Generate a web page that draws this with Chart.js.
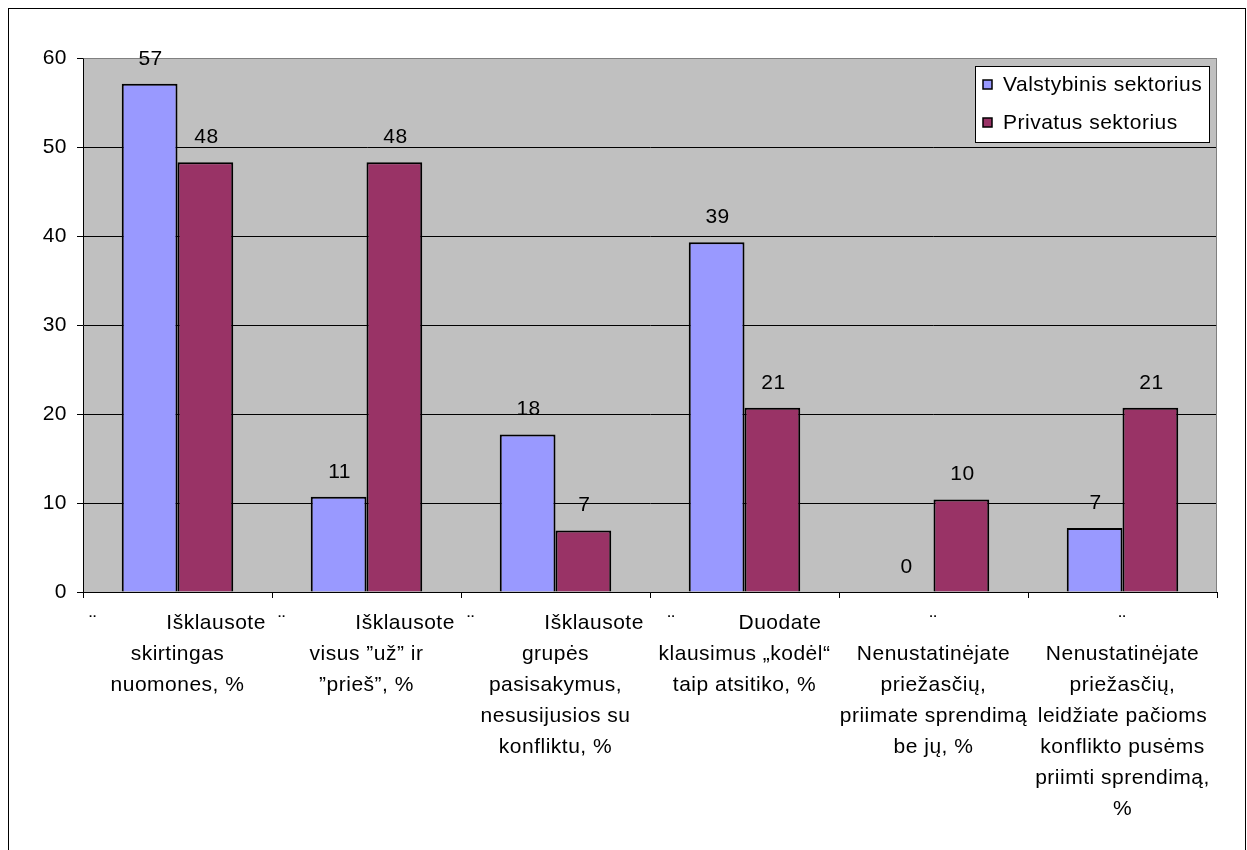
<!DOCTYPE html>
<html>
<head>
<meta charset="utf-8">
<script src="https://cdn.jsdelivr.net/npm/chart.js@4.4.1/dist/chart.umd.min.js"></script>
<style>
  html, body { margin: 0; padding: 0; background: #ffffff; }
  #wrap { width: 1247px; height: 850px; position: relative; }
</style>
</head>
<body>
<div id="wrap"><canvas id="chart" width="1247" height="850"></canvas></div>
<script>
// Survey answers: how conflicts are handled, public vs. private sector (%)
const categories = [
  ['¨           Išklausote', 'skirtingas', 'nuomones, %'],
  ['¨           Išklausote', 'visus ”už” ir', '”prieš”, %'],
  ['¨           Išklausote', 'grupės', 'pasisakymus,', 'nesusijusios su', 'konfliktu, %'],
  ['¨          Duodate', 'klausimus „kodėl“', 'taip atsitiko, %'],
  ['¨', 'Nenustatinėjate', 'priežasčių,', 'priimate sprendimą', 'be jų, %'],
  ['¨', 'Nenustatinėjate', 'priežasčių,', 'leidžiate pačioms', 'konflikto pusėms', 'priimti sprendimą,', '%']
];
const seriesNames = ['Valstybinis sektorius', 'Privatus sektorius'];
const valstybinis = [57.1, 10.7, 17.7, 39.3, 0, 7.2];
const privatus = [48.3, 48.3, 6.9, 20.7, 10.4, 20.7];
const yTicks = [0, 10, 20, 30, 40, 50, 60];

const colors = ['#9999ff', '#993366'];
const FONT = 'Liberation Sans, Arial, sans-serif';
const FONT_SIZE = 21;

const framePlugin = {
  id: 'frame',
  beforeDraw(chart) {
    const { ctx, chartArea: a } = chart;
    // slightly wider glyph spacing for all text on the canvas
    ctx.letterSpacing = '0.5px';
    ctx.save();
    ctx.fillStyle = '#ffffff';
    ctx.fillRect(0, 0, chart.width, chart.height);
    ctx.strokeStyle = '#000000';
    ctx.lineWidth = 1;
    ctx.strokeRect(8.5, 8.5, 1237, 900);
    ctx.fillStyle = '#c0c0c0';
    ctx.fillRect(a.left, a.top, a.right - a.left, a.bottom - a.top);
    ctx.restore();
  },
  afterDatasetsDraw(chart) {
    const { ctx, chartArea: a } = chart;
    ctx.save();
    // plot-area outline on top and right
    ctx.strokeStyle = '#808080';
    ctx.lineWidth = 1;
    ctx.beginPath();
    ctx.moveTo(Math.round(a.left) + 0.5, Math.round(a.top) + 0.5);
    ctx.lineTo(Math.round(a.right) - 0.5, Math.round(a.top) + 0.5);
    ctx.lineTo(Math.round(a.right) - 0.5, Math.round(a.bottom));
    ctx.stroke();
    // value labels above bars
    ctx.fillStyle = '#000000';
    ctx.font = FONT_SIZE + 'px ' + FONT;
    ctx.textAlign = 'center';
    ctx.textBaseline = 'middle';
    chart.data.datasets.forEach((ds, i) => {
      chart.getDatasetMeta(i).data.forEach((el, j) => {
        ctx.fillText(String(Math.round(ds.data[j])), el.x + 1, el.y - 25);
      });
    });
    ctx.restore();
  },
  afterDraw(chart) {
    const { ctx } = chart;
    ctx.save();
    // legend box
    const bx = 975.5, by = 66.5, bw = 234, bh = 76;
    ctx.fillStyle = '#ffffff';
    ctx.fillRect(bx, by, bw, bh);
    ctx.strokeStyle = '#000000';
    ctx.lineWidth = 1;
    ctx.strokeRect(bx, by, bw, bh);
    ctx.font = FONT_SIZE + 'px ' + FONT;
    ctx.textAlign = 'left';
    ctx.textBaseline = 'middle';
    chart.data.datasets.forEach((ds, i) => {
      const cy = 85 + i * 38;
      ctx.fillStyle = ds.backgroundColor;
      ctx.fillRect(983, cy - 5, 9, 9);
      ctx.strokeStyle = '#000000';
      ctx.lineWidth = 1.5;
      ctx.strokeRect(983, cy - 5, 9, 9);
      ctx.fillStyle = '#000000';
      ctx.fillText(ds.label, 1003, cy);
    });
    ctx.restore();
  }
};

new Chart(document.getElementById('chart'), {
  type: 'bar',
  data: {
    labels: categories,
    datasets: [
      { label: seriesNames[0], data: valstybinis, backgroundColor: colors[0], borderColor: '#000000', borderWidth: 2 },
      { label: seriesNames[1], data: privatus, backgroundColor: colors[1], borderColor: '#000000', borderWidth: 2 }
    ]
  },
  options: {
    responsive: false,
    animation: false,
    events: [],
    layout: { padding: { left: 0, top: 58, right: 30, bottom: 0 } },
    datasets: { bar: { categoryPercentage: 0.59, barPercentage: 1.0 } },
    plugins: { legend: { display: false }, tooltip: { enabled: false } },
    scales: {
      x: {
        grid: { offset: true, drawOnChartArea: false, drawTicks: true, tickLength: 6, color: '#000000' },
        border: { color: '#000000', width: 1 },
        ticks: {
          autoSkip: false, maxRotation: 0, minRotation: 0, padding: 10,
          color: '#000000', font: { family: FONT, size: FONT_SIZE, lineHeight: 31 / FONT_SIZE }
        },
        afterFit(scale) { scale.height = 258; }
      },
      y: {
        min: 0, max: 60,
        afterBuildTicks(scale) { scale.ticks = yTicks.map(v => ({ value: v })); },
        grid: {
          color: ctx => (ctx.tick && ctx.tick.value === 60 ? '#808080' : '#000000'),
          tickColor: '#000000', tickLength: 6, drawTicks: true
        },
        border: { color: '#000000', width: 1 },
        ticks: { padding: 10, color: '#000000', font: { family: FONT, size: FONT_SIZE } },
        afterFit(scale) { scale.width = 83; }
      }
    }
  },
  plugins: [framePlugin]
});
</script>
</body>
</html>
